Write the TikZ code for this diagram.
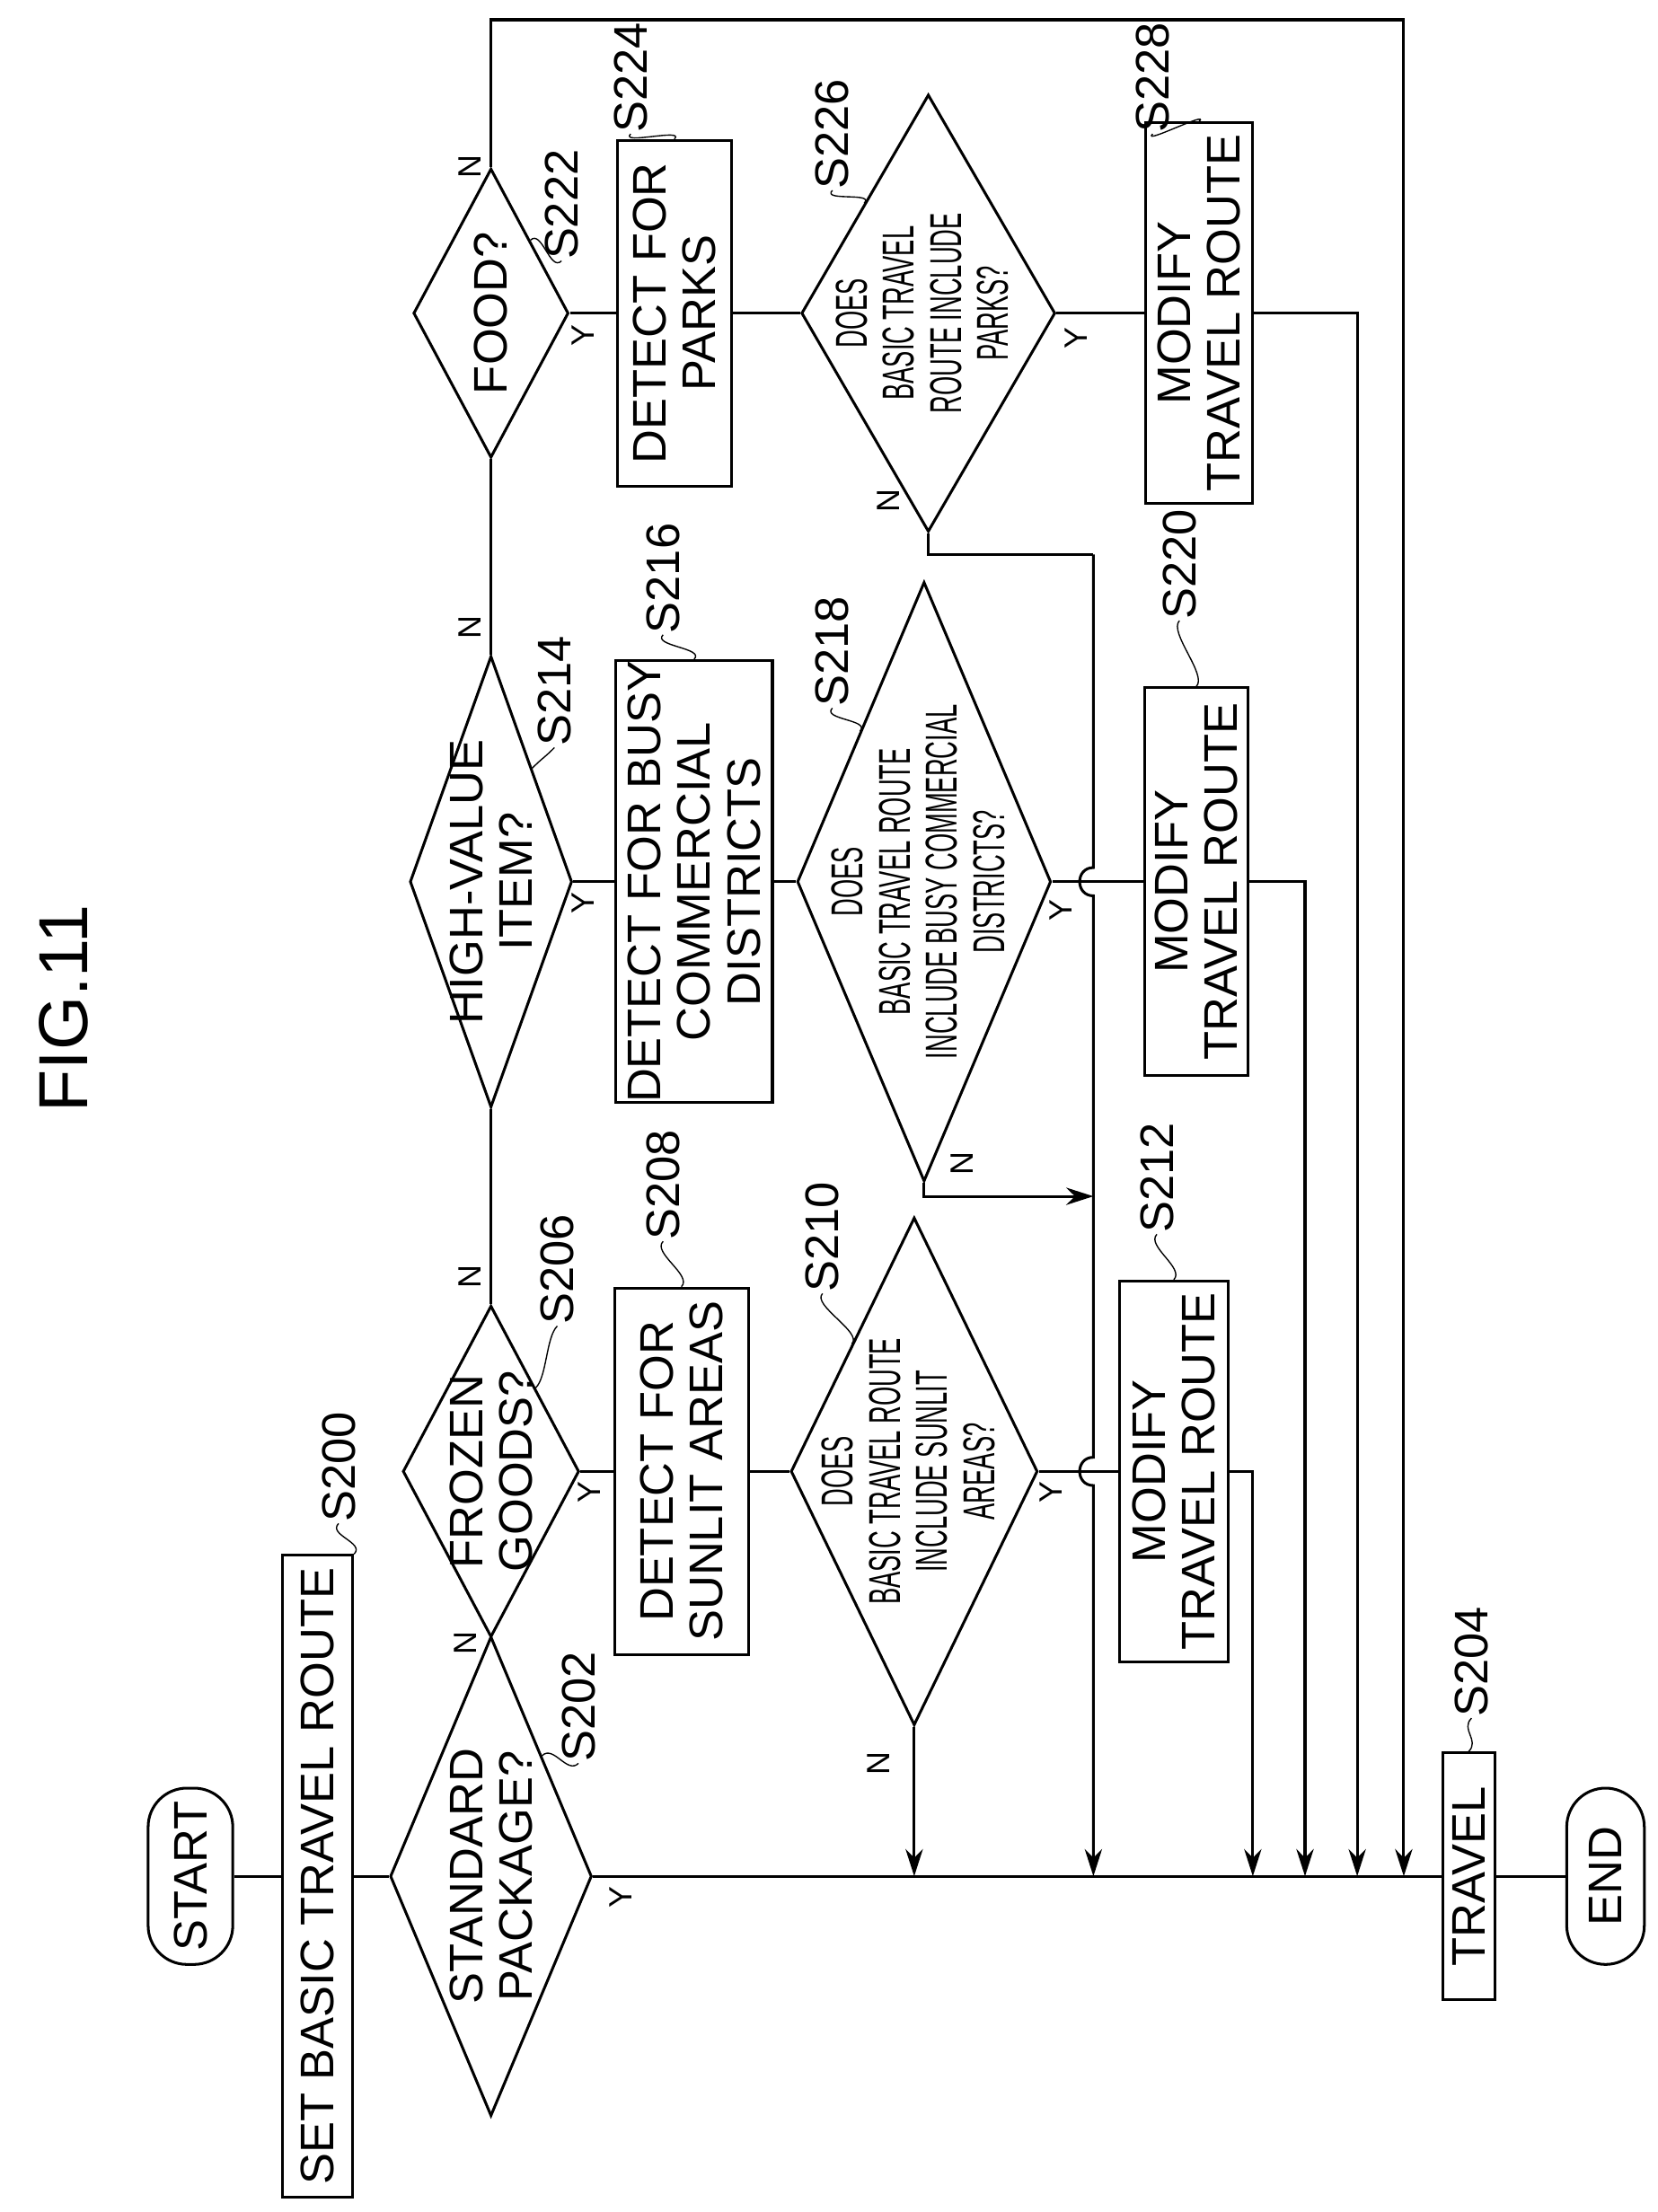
\documentclass[tikz,border=0pt]{standalone}
\usepackage{fontspec}
\setmainfont{Liberation Sans}
\usetikzlibrary{arrows.meta,shapes.geometric,positioning}
\newcommand{\narrowtext}[1]{\scalebox{0.55}[1]{\begin{tabular}{@{}c@{}}#1\end{tabular}}}

\begin{document}
\begin{tikzpicture}[x=0.02cm,y=-0.02cm,line width=1.1pt,
    >={Stealth[length=11pt,width=7pt]},
    box/.style={draw,rectangle,rotate=90,inner sep=0pt,align=center,
                font=\fontsize{19}{20}\selectfont},
    term/.style={box,rounded corners=0.55cm},
    dia/.style={draw,diamond,rotate=90,inner sep=0pt},
    dtext/.style={rotate=90,align=center,inner sep=0pt,font=\fontsize{19}{20}\selectfont},
    qtext/.style={rotate=90,align=center,inner sep=0pt,font=\fontsize{18}{19}\selectfont},
    stepno/.style={rotate=90,inner sep=0pt,font=\fontsize{19}{20}\selectfont},
    yn/.style={rotate=90,inner sep=0pt,font=\fontsize{13}{14}\selectfont},
    lead/.style={line width=0.5pt}]
\useasboundingbox (0,0) rectangle (1175,1568);

\node[rotate=90,font=\fontsize{28}{30}\selectfont] (fig) at (45,715) {FIG.11};

% main column
\node[term,minimum width=2.5cm,minimum height=1.2cm] (start) at (135,1330) {START};
\node[box,minimum width=9.1cm,minimum height=1.0cm] (set) at (225,1330) {SET BASIC TRAVEL ROUTE};
\node[dia,minimum width=6.8cm,minimum height=2.86cm] (d202) at (348,1330) {};
\node[dtext] (d202t) at (d202) {STANDARD\\PACKAGE?};
\node[box,minimum width=3.5cm,minimum height=0.74cm] (travel) at (1041,1330) {TRAVEL};
\node[term,minimum width=2.5cm,minimum height=1.1cm] (end) at (1138,1330) {END};

% frozen goods
\node[dia,minimum width=4.7cm,minimum height=2.5cm] (d206) at (348,1043) {};
\node[dtext] (d206t) at (d206) {FROZEN\\GOODS?};
\node[box,minimum width=5.2cm,minimum height=1.9cm] (sunlit) at (483,1043) {DETECT FOR\\SUNLIT AREAS};
\node[dia,minimum width=7.2cm,minimum height=3.5cm] (d210) at (648,1043) {};
\node[qtext] (d210t) at (d210) {\narrowtext{DOES\\BASIC TRAVEL ROUTE\\INCLUDE SUNLIT\\AREAS?}};
\node[box,minimum width=5.4cm,minimum height=1.54cm] (mod212) at (832,1043) {MODIFY\\TRAVEL ROUTE};

% high-value item
\node[dia,minimum width=6.4cm,minimum height=2.3cm] (d214) at (348,625) {};
\node[dtext] (d214t) at (d214) {HIGH-VALUE\\ITEM?};
\node[box,minimum width=6.14cm,minimum height=2.22cm] (busy) at (492,625) {DETECT FOR BUSY\\COMMERCIAL\\DISTRICTS};
\node[dia,minimum width=8.5cm,minimum height=3.6cm] (d218) at (655,625) {};
\node[qtext] (d218t) at (d218) {\narrowtext{DOES\\BASIC TRAVEL ROUTE\\INCLUDE BUSY COMMERCIAL\\DISTRICTS?}};
\node[box,minimum width=5.5cm,minimum height=1.46cm] (mod220) at (848,625) {MODIFY\\TRAVEL ROUTE};

% food
\node[dia,minimum width=4.1cm,minimum height=2.2cm] (d222) at (348,222) {};
\node[dtext] (d222t) at (d222) {FOOD?};
\node[box,minimum width=4.9cm,minimum height=1.62cm] (parks) at (478,222) {DETECT FOR\\PARKS};
\node[dia,minimum width=6.2cm,minimum height=3.6cm] (d226) at (658,222) {};
\node[qtext] (d226t) at (d226) {\narrowtext{DOES\\BASIC TRAVEL\\ROUTE INCLUDE\\PARKS?}};
\node[box,minimum width=5.4cm,minimum height=1.52cm] (mod228) at (850,222) {MODIFY\\TRAVEL ROUTE};

% step labels
\node[stepno] (s200) at (240,1040) {S200};
\node[stepno] (s202) at (410,1210) {S202};
\node[stepno] (s204) at (1043,1178) {S204};
\node[stepno] (s206) at (395,900) {S206};
\node[stepno] (s208) at (470,840) {S208};
\node[stepno] (s210) at (583,877) {S210};
\node[stepno] (s212) at (820,835) {S212};
\node[stepno] (s214) at (393,490) {S214};
\node[stepno] (s216) at (470,410) {S216};
\node[stepno] (s218) at (590,462) {S218};
\node[stepno] (s220) at (836,400) {S220};
\node[stepno] (s222) at (398,145) {S222};
\node[stepno] (s224) at (447,55) {S224};
\node[stepno] (s226) at (590,95) {S226};
\node[stepno] (s228) at (817,55) {S228};
\foreach \l/\t in {s200/set.south east,s202/d202.south east,s204/travel.east,
    s206/d206.south east,s208/sunlit.east,s210/d210.north east,s212/mod212.east,
    s214/d214.south east,s216/busy.east,s218/d218.north east,s220/mod220.east,
    s222/d222.south east,s224/parks.east,s226/d226.north east,s228/mod228.east}
  \draw[lead] (\l.west) .. controls +(-8,8) and +(8,-8) .. (\t);

% yes / no
\node[yn] (y202) at (440,1345) {Y};
\node[yn] (n202) at (330,1165) {N};
\node[yn] (y206) at (418,1058) {Y};
\node[yn] (n206) at (333,905) {N};
\node[yn] (y210) at (745,1058) {Y};
\node[yn] (n210) at (623,1250) {N};
\node[yn] (y214) at (413,640) {Y};
\node[yn] (n214) at (333,445) {N};
\node[yn] (y218) at (752,645) {Y};
\node[yn] (n218) at (682,825) {N};
\node[yn] (y222) at (413,238) {Y};
\node[yn] (n222) at (333,118) {N};
\node[yn] (y226) at (763,240) {Y};
\node[yn] (n226) at (630,355) {N};

% junctions
\coordinate (j210) at (648,1330);
\coordinate (jbus) at (775,1330);
\coordinate (j212) at (888,1330);
\coordinate (j220) at (925,1330);
\coordinate (j228) at (962,1330);
\coordinate (jtop) at (995,1330);
\coordinate (k218) at (775,848);
\coordinate (k226) at (775,393);
\coordinate (t222) at (348,14);

% connectors
\draw (start) -- (set);
\draw (set) -- (d202);
\draw (d202) -- (travel);
\draw (travel) -- (end);
\draw (d202) -- (d206);
\draw (d206) -- (d214);
\draw (d214) -- (d222);
\draw (d206) -- (sunlit);
\draw (sunlit) -- (d210);
\draw (d210) -- (mod212);
\draw (d214) -- (busy);
\draw (busy) -- (d218);
\draw (d218) -- (mod220);
\draw (d222) -- (parks);
\draw (parks) -- (d226);
\draw (d226) -- (mod228);
\draw[->] (d210) -- (j210);
\draw[->] (mod212) -| (j212);
\draw[->] (mod220) -| (j220);
\draw[->] (mod228) -| (j228);
\draw[->] (d218) |- (k218);
\draw (d226) |- (k226);
\draw[->] (k226) -- (775,615) .. controls (762,615) and (762,635) .. (775,635)
    -- (775,1033) .. controls (762,1033) and (762,1053) .. (775,1053) -- (jbus);
\draw[->] (d222) -- (t222) -| (jtop);
\end{tikzpicture}
\end{document}
